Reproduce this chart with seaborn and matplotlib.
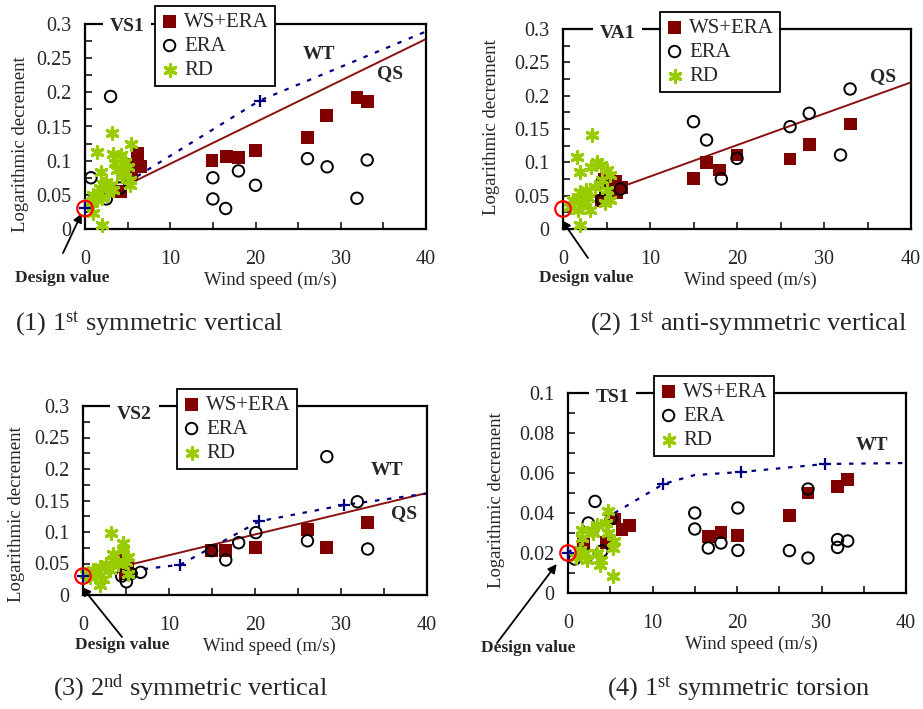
import matplotlib
matplotlib.use('Agg')
import matplotlib.pyplot as plt
from matplotlib.ticker import MultipleLocator, FuncFormatter
import seaborn as sns

# ---------------- data ----------------
# (1) VS1
vs1_ws_x = [4.2, 4.7, 5.1, 5.5, 6.2, 6.5, 14.9, 16.6, 18.0, 20.0, 26.1, 28.3, 31.9, 33.1]
vs1_ws_y = [0.055, 0.082, 0.094, 0.079, 0.110, 0.092, 0.100, 0.106, 0.105, 0.115, 0.134, 0.166, 0.193, 0.186]
vs1_era_x = [0.7, 3.0, 2.5, 4.1, 15.0, 15.0, 16.5, 18.0, 20.0, 26.1, 28.4, 31.9, 33.1]
vs1_era_y = [0.075, 0.194, 0.044, 0.060, 0.075, 0.044, 0.030, 0.085, 0.064, 0.103, 0.091, 0.045, 0.101]
vs1_rd_x = [3.2, 1.45, 3.25, 4.2, 5.35, 1.84, 3.5, 4.7, 5.1, 4.5, 5.3, 2.5, 3.1, 1.76, 0.98,
            1.37, 0.59, 1.95, 2.7, 3.3, 0.98, 1.95, 5.3, 4.3, 3.7, 2.1, 1.5]
vs1_rd_y = [0.140, 0.113, 0.110, 0.108, 0.124, 0.084, 0.096, 0.098, 0.091, 0.081, 0.072, 0.069,
            0.064, 0.060, 0.050, 0.042, 0.038, 0.045, 0.052, 0.057, 0.023, 0.006, 0.064, 0.077,
            0.086, 0.066, 0.052]
vs1_wt_x = [0, 20.5, 40]
vs1_wt_y = [0.03, 0.188, 0.289]
vs1_wt_pts_x = [0, 20.5]
vs1_wt_pts_y = [0.03, 0.188]
vs1_qs_x = [5, 40]
vs1_qs_y = [0.065, 0.278]

# (2) VA1
va1_ws_x = [4.8, 6.0, 6.7, 6.2, 4.4, 15.0, 16.5, 18.0, 20.0, 26.1, 28.3, 33.0]
va1_ws_y = [0.075, 0.072, 0.062, 0.055, 0.043, 0.076, 0.100, 0.0885, 0.111, 0.105, 0.127, 0.1575]
va1_era_x = [4.4, 4.5, 4.9, 6.6, 15.0, 16.5, 18.2, 20.0, 26.1, 28.3, 31.9, 33.0]
va1_era_y = [0.0685, 0.0435, 0.056, 0.060, 0.161, 0.1335, 0.075, 0.106, 0.1535, 0.1735, 0.111, 0.210]
va1_rd_x = [3.3, 1.57, 1.95, 3.2, 3.9, 4.4, 5.0, 5.4, 4.45, 3.7, 2.7, 1.95, 1.2, 0.8, 1.76,
            3.1, 1.95, 2.9, 5.0, 5.4, 4.8, 2.3]
va1_rd_y = [0.141, 0.108, 0.086, 0.0935, 0.101, 0.096, 0.0885, 0.081, 0.0735, 0.0635, 0.0585,
            0.056, 0.0435, 0.0335, 0.0285, 0.0285, 0.006, 0.046, 0.0585, 0.0435, 0.0385, 0.0385]
va1_qs_x = [0.5, 40]
va1_qs_y = [0.034, 0.22]

# (3) VS2
vs2_ws_x = [14.95, 16.6, 20.1, 26.1, 28.35, 33.1, 4.3, 5.2, 4.9]
vs2_ws_y = [0.070, 0.071, 0.075, 0.104, 0.075, 0.115, 0.056, 0.042, 0.034]
vs2_era_x = [28.35, 31.9, 33.1, 26.1, 20.1, 18.1, 16.6, 14.95, 6.7, 5.05, 4.5, 5.6]
vs2_era_y = [0.2196, 0.148, 0.073, 0.086, 0.099, 0.083, 0.0556, 0.0704, 0.036, 0.021, 0.030, 0.034]
vs2_rd_x = [3.3, 4.6, 4.6, 3.5, 5.2, 1.95, 1.16, 1.55, 0.78, 1.94, 2.7, 3.5, 4.1, 2.3, 5.05, 5.2, 0.4, 3.1]
vs2_rd_y = [0.098, 0.083, 0.071, 0.0645, 0.061, 0.045, 0.040, 0.034, 0.029, 0.016, 0.049, 0.0555,
            0.050, 0.026, 0.053, 0.034, 0.034, 0.040]
vs2_wt_x = [0, 11.3, 20.5, 30.4, 40]
vs2_wt_y = [0.03, 0.048, 0.117, 0.143, 0.161]
vs2_wt_pts_x = [0, 11.3, 20.5, 30.4]
vs2_wt_pts_y = [0.03, 0.048, 0.117, 0.143]
vs2_qs_x = [5.4, 40]
vs2_qs_y = [0.048, 0.162]

# (4) TS1
ts1_ws_x = [5.5, 6.4, 7.3, 4.5, 1.8, 16.6, 18.1, 20.1, 26.2, 28.4, 31.9, 33.1]
ts1_ws_y = [0.037, 0.0317, 0.0338, 0.0253, 0.0253, 0.0283, 0.0303, 0.0288, 0.0388, 0.050, 0.0533, 0.0567]
ts1_era_x = [3.2, 2.4, 5.1, 4.0, 2.4, 0.8, 15.0, 15.0, 16.6, 18.1, 20.1, 20.1, 26.2, 28.4,
             28.4, 31.9, 31.9, 33.1]
ts1_era_y = [0.0458, 0.035, 0.037, 0.021, 0.019, 0.017, 0.040, 0.032, 0.0225, 0.025, 0.0425,
             0.0213, 0.0212, 0.052, 0.0175, 0.0267, 0.0228, 0.026]
ts1_rd_x = [4.7, 3.4, 3.0, 1.6, 1.6, 1.4, 2.2, 3.75, 5.3, 5.3, 5.5, 4.7, 4.5, 1.0, 2.0, 3.4, 3.95, 2.8]
ts1_rd_y = [0.041, 0.034, 0.030, 0.0317, 0.0275, 0.0217, 0.0167, 0.0142, 0.0083, 0.0225, 0.026,
            0.030, 0.035, 0.018, 0.020, 0.020, 0.0167, 0.0317]
ts1_wt_x = [0, 5.5, 11.3, 15, 20.5, 30.4, 40]
ts1_wt_y = [0.02, 0.04, 0.0545, 0.059, 0.0605, 0.0645, 0.065]
ts1_wt_pts_x = [0, 11.3, 20.5, 30.4]
ts1_wt_pts_y = [0.02, 0.0545, 0.0605, 0.0645]

design_values = [0.03, 0.03, 0.03, 0.02]
captions = ['(1) 1$^{\\mathrm{st}}$ symmetric vertical',
            '(2) 1$^{\\mathrm{st}}$ anti-symmetric vertical',
            '(3) 2$^{\\mathrm{nd}}$ symmetric vertical',
            '(4) 1$^{\\mathrm{st}}$ symmetric torsion']
mode_names = ['VS1', 'VA1', 'VS2', 'TS1']

# ---------------- style ----------------
sns.set_style('ticks')
plt.rcParams['font.family'] = ['Liberation Serif', 'DejaVu Serif']
plt.rcParams['mathtext.fontset'] = 'custom'
plt.rcParams['mathtext.rm'] = 'Liberation Serif'
plt.rcParams['mathtext.it'] = 'Liberation Serif:italic'
plt.rcParams['mathtext.bf'] = 'Liberation Serif:bold'

WS_C = '#800000'
RD_C = '#99CC00'
WT_C = '#000080'
QS_C = '#8B1010'

fig = plt.figure(figsize=(9.23, 7.09), dpi=100)
W, H = 923.0, 709.0


def px_axes(l, t, r, b):
    return fig.add_axes([l / W, 1 - b / H, (r - l) / W, (b - t) / H])


def draw(ax, ws_x, ws_y, era_x, era_y, rd_x, rd_y, dv, ymax, ystep,
         wt=None, wt_pts=None, qs=None):
    if qs is not None:
        sns.lineplot(x=qs[0], y=qs[1], ax=ax, color=QS_C, lw=1.4, sort=False,
                     estimator=None, zorder=2)
    if wt is not None:
        sns.lineplot(x=wt[0], y=wt[1], ax=ax, color=WT_C, lw=1.6, sort=False,
                     estimator=None, linestyle=(0, (2, 3.5)), zorder=2)
    sns.scatterplot(x=ws_x, y=ws_y, ax=ax, marker='s', s=85, color=WS_C,
                    edgecolor='none', label='WS+ERA', clip_on=False, zorder=3)
    sns.scatterplot(x=era_x, y=era_y, ax=ax, marker='o', s=68, color='black',
                    facecolor='none', edgecolor='black', linewidth=1.4,
                    label='ERA', clip_on=False, zorder=4)
    sns.scatterplot(x=rd_x, y=rd_y, ax=ax, marker=(6, 2, 0), s=70, color=RD_C,
                    linewidth=2.3, label='RD', clip_on=False, zorder=5)
    if wt_pts is not None:
        sns.scatterplot(x=wt_pts[0], y=wt_pts[1], ax=ax, marker='+', s=80,
                        color=WT_C, linewidth=1.6, clip_on=False, zorder=6)
    sns.scatterplot(x=[0], y=[dv], ax=ax, marker='o', s=125, color='red',
                    facecolor='none', edgecolor='red', linewidth=1.6,
                    clip_on=False, zorder=6)

    ax.set_xlim(0, 40)
    ax.set_ylim(0, ymax)
    ax.xaxis.set_major_locator(MultipleLocator(10))
    ax.xaxis.set_minor_locator(MultipleLocator(5))
    ax.yaxis.set_major_locator(MultipleLocator(ystep))
    ax.yaxis.set_minor_locator(MultipleLocator(ystep / 2))
    ax.yaxis.set_major_formatter(FuncFormatter(lambda v, p: '%g' % round(v, 4)))
    ax.tick_params(axis='both', which='both', direction='in', length=5,
                   width=1.3, labelsize=14.5, top=False, right=False)
    ax.tick_params(axis='x', pad=15)
    ax.tick_params(axis='y', pad=10)
    for s in ax.spines.values():
        s.set_linewidth(1.6)
        s.set_color('black')
        s.set_visible(True)
    ax.set_xlabel('Wind speed (m/s)', fontsize=13.5)
    ax.set_ylabel('Logarithmic decrement', fontsize=13.5)


def legend(ax, x, y):
    lg = ax.legend(loc='upper left', bbox_to_anchor=(x / W, 1 - y / H),
                   bbox_transform=fig.transFigure, frameon=True, fancybox=False,
                   edgecolor='black', framealpha=1, fontsize=15,
                   handlelength=0.8, handletextpad=0.3, borderpad=0.3,
                   labelspacing=0.22, borderaxespad=0)
    lg.get_frame().set_linewidth(1.3)
    lg.set_zorder(10)


def tag(ax, x, y, s):
    ax.text(x, y, s, fontsize=14, fontweight='bold', ha='center', va='center',
            zorder=9)


def mode_tag(ax, x, y, s):
    ax.text(x, y, s, fontsize=14, fontweight='bold', ha='center', va='center',
            zorder=9, bbox=dict(boxstyle='square,pad=0.35', facecolor='white',
                                edgecolor='none'), clip_on=False)


def design(ax, tip, tail, txt):
    ax.annotate('', xy=tip, xycoords='data', xytext=(tail[0] / W, 1 - tail[1] / H),
                textcoords='figure fraction', annotation_clip=False,
                arrowprops=dict(arrowstyle='-|>', color='black', lw=1.3,
                                mutation_scale=13, shrinkA=0, shrinkB=0))
    fig.text(txt[0] / W, 1 - txt[1] / H, 'Design value', fontsize=12.5,
             fontweight='bold', ha='center', va='center')


# ---------------- panel 1 ----------------
ax1 = px_axes(85, 24, 426, 229)
draw(ax1, vs1_ws_x, vs1_ws_y, vs1_era_x, vs1_era_y, vs1_rd_x, vs1_rd_y,
     design_values[0], 0.3, 0.05, wt=(vs1_wt_x, vs1_wt_y),
     wt_pts=(vs1_wt_pts_x, vs1_wt_pts_y), qs=(vs1_qs_x, vs1_qs_y))
ax1.yaxis.set_label_coords(-0.165, 0.415)
ax1.xaxis.set_label_coords(0.543, -0.21)
legend(ax1, 155, 6)
mode_tag(ax1, 4.9, 0.296, mode_names[0])
tag(ax1, 27.4, 0.255, 'WT')
tag(ax1, 35.8, 0.227, 'QS')
design(ax1, (-0.39, 0.023), (63, 253), (62, 278))

# ---------------- panel 2 ----------------
ax2 = px_axes(563, 29, 911, 229)
draw(ax2, va1_ws_x, va1_ws_y, va1_era_x, va1_era_y, va1_rd_x, va1_rd_y,
     design_values[1], 0.3, 0.05, qs=(va1_qs_x, va1_qs_y))
ax2.yaxis.set_label_coords(-0.18, 0.51)
ax2.xaxis.set_label_coords(0.537, -0.215)
legend(ax2, 660, 12)
mode_tag(ax2, 6.3, 0.294, mode_names[1])
tag(ax2, 36.8, 0.228, 'QS')
design(ax2, (-0.15, 0.0135), (588, 258), (586, 278))

# ---------------- panel 3 ----------------
ax3 = px_axes(83, 406, 427, 595)
draw(ax3, vs2_ws_x, vs2_ws_y, vs2_era_x, vs2_era_y, vs2_rd_x, vs2_rd_y,
     design_values[2], 0.3, 0.05, wt=(vs2_wt_x, vs2_wt_y),
     wt_pts=(vs2_wt_pts_x, vs2_wt_pts_y), qs=(vs2_qs_x, vs2_qs_y))
ax3.yaxis.set_label_coords(-0.17, 0.43)
ax3.xaxis.set_label_coords(0.541, -0.225)
legend(ax3, 177, 389)
mode_tag(ax3, 6.0, 0.287, mode_names[2])
tag(ax3, 35.3, 0.198, 'WT')
tag(ax3, 37.3, 0.130, 'QS')
design(ax3, (-0.15, 0.013), (122, 637), (122, 645))

# ---------------- panel 4 ----------------
ax4 = px_axes(568, 393, 906, 593)
draw(ax4, ts1_ws_x, ts1_ws_y, ts1_era_x, ts1_era_y, ts1_rd_x, ts1_rd_y,
     design_values[3], 0.1, 0.02, wt=(ts1_wt_x, ts1_wt_y),
     wt_pts=(ts1_wt_pts_x, ts1_wt_pts_y))
ax4.yaxis.set_label_coords(-0.185, 0.465)
ax4.xaxis.set_label_coords(0.542, -0.215)
legend(ax4, 654, 376)
mode_tag(ax4, 5.3, 0.098, mode_names[3])
tag(ax4, 36.0, 0.0735, 'WT')
design(ax4, (-1.34, 0.0145), (497, 643), (528, 648.5))

# ---------------- captions ----------------
fig.text(15 / W, 1 - 330 / H, captions[0], fontsize=19, va='baseline')
fig.text(590 / W, 1 - 330 / H, captions[1], fontsize=19, va='baseline')
fig.text(53 / W, 1 - 695 / H, captions[2], fontsize=19, va='baseline')
fig.text(607 / W, 1 - 695 / H, captions[3], fontsize=19, va='baseline')

fig.savefig('out.png', dpi=100)
